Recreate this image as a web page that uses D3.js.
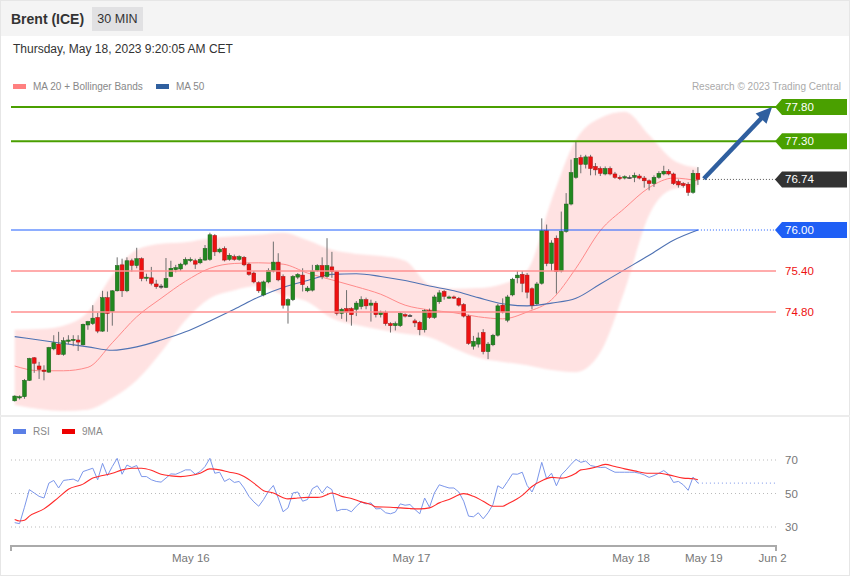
<!DOCTYPE html>
<html><head><meta charset="utf-8">
<script src="https://cdn.jsdelivr.net/npm/d3@7"></script>
<style>body{margin:0;background:#fff;} svg{display:block;font-family:"Liberation Sans",Arial,sans-serif;}</style>
</head><body><svg id="c" width="850" height="576"></svg>
<script>
// ---------- DATA ----------
const candleOpen = [73.50,73.55,73.56,73.80,74.13,74.01,73.95,73.92,74.26,74.33,
74.18,74.37,74.39,74.39,74.32,74.61,74.63,74.72,74.52,75.01,
74.81,75.11,75.49,75.11,75.55,75.48,75.58,75.30,75.30,75.21,
75.18,75.16,75.32,75.42,75.43,75.50,75.56,75.55,75.52,75.56,
75.57,75.92,75.68,75.73,75.57,75.61,75.57,75.60,75.50,75.37,
75.23,75.05,75.24,75.40,75.53,75.32,74.90,74.98,75.31,75.34,
75.11,75.12,75.41,75.48,75.32,75.46,75.39,74.78,74.85,74.85,
74.84,74.88,74.98,74.90,74.93,74.76,74.79,74.63,74.60,74.60,
74.76,74.75,74.67,74.65,74.54,74.82,74.72,74.95,75.10,75.01,
75.02,75.00,74.91,74.74,74.30,74.33,74.50,74.22,74.32,74.46,
74.90,74.68,75.05,75.30,75.35,75.34,75.14,74.92,75.22,75.99,
75.51,75.88,75.40,75.98,76.38,76.77,77.06,76.96,77.07,76.93,
76.90,76.82,76.90,76.82,76.77,76.76,76.77,76.77,76.79,76.76,
76.72,76.68,76.77,76.82,76.86,76.82,76.71,76.68,76.67,76.55,
76.83];
const candleHigh = [73.58,73.58,73.82,74.13,74.14,74.07,74.02,74.29,74.46,74.51,
74.43,74.46,74.46,74.46,74.63,74.67,74.90,74.79,75.11,75.10,
75.12,75.60,75.58,75.60,75.58,75.74,75.60,75.36,75.46,75.27,
75.21,75.59,75.55,75.49,75.52,75.60,75.60,75.58,75.60,75.78,
75.96,75.94,75.74,75.76,75.66,75.64,75.63,75.62,75.52,75.40,
75.25,75.26,75.44,75.83,75.66,75.35,75.00,75.34,75.37,75.44,
75.18,75.49,75.50,75.60,75.88,75.68,75.40,74.86,75.12,74.87,
74.96,75.03,75.01,74.98,74.96,74.82,74.82,74.65,74.66,74.80,
74.78,74.77,74.70,74.67,74.84,74.85,75.05,75.12,75.12,75.04,
75.04,75.02,74.93,74.76,74.45,74.50,74.55,74.36,74.48,74.92,
75.00,75.05,75.30,75.40,75.40,75.37,75.16,75.24,76.17,76.08,
75.85,75.92,76.27,76.54,77.03,77.29,77.10,77.10,77.10,76.98,
76.93,76.93,76.93,76.85,76.80,76.80,76.80,76.84,76.82,76.79,
76.74,76.80,76.86,76.94,76.89,76.84,76.74,76.70,76.70,76.88,
76.92];
const candleLow = [73.49,73.52,73.53,73.79,73.91,73.82,73.80,73.91,74.24,74.17,
74.16,74.33,74.30,74.23,74.31,74.54,74.61,74.49,74.51,74.51,
74.60,75.10,75.02,75.09,75.39,75.44,75.25,75.25,75.19,75.14,
75.14,75.15,75.31,75.38,75.40,75.48,75.53,75.43,75.50,75.55,
75.55,75.62,75.66,75.54,75.55,75.55,75.55,75.47,75.33,75.22,
75.08,75.03,75.22,75.38,75.25,74.85,74.63,74.96,75.28,75.10,
75.09,75.10,75.39,75.28,75.30,75.30,74.75,74.70,74.66,74.60,
74.74,74.84,74.84,74.66,74.72,74.72,74.60,74.50,74.53,74.58,
74.72,74.73,74.58,74.46,74.50,74.70,74.70,74.92,74.98,74.99,
74.99,74.88,74.72,74.32,74.25,74.28,74.18,74.11,74.30,74.44,
74.78,74.65,75.03,75.22,75.09,75.00,74.84,74.90,75.20,75.47,
75.40,75.07,75.38,75.96,76.36,76.75,76.83,76.90,76.80,76.80,
76.79,76.80,76.80,76.75,76.73,76.74,76.75,76.70,76.74,76.62,
76.58,76.63,76.75,76.80,76.80,76.66,76.62,76.62,76.50,76.53,
76.66];
const candleClose = [73.57,73.56,73.80,74.12,74.05,73.96,73.93,74.28,74.35,74.18,
74.38,74.39,74.40,74.36,74.62,74.66,74.71,74.52,75.01,74.78,
75.11,75.48,75.11,75.55,75.48,75.58,75.29,75.31,75.22,75.17,
75.18,75.29,75.44,75.45,75.50,75.57,75.57,75.50,75.57,75.73,
75.93,75.68,75.72,75.56,75.63,75.57,75.61,75.49,75.35,75.24,
75.11,75.24,75.41,75.53,75.27,74.90,74.98,75.32,75.35,75.20,
75.15,75.40,75.48,75.32,75.48,75.39,74.78,74.84,74.80,74.76,
74.93,74.98,74.89,74.93,74.76,74.79,74.63,74.60,74.63,74.78,
74.74,74.75,74.64,74.54,74.82,74.72,75.02,75.08,75.03,75.02,
75.01,74.90,74.74,74.34,74.37,74.42,74.22,74.33,74.46,74.89,
74.80,75.02,75.28,75.34,75.22,75.09,74.90,75.21,75.99,75.51,
75.81,75.39,75.98,76.38,76.84,77.05,76.96,77.07,76.90,76.88,
76.83,76.90,76.82,76.77,76.76,76.78,76.77,76.80,76.76,76.72,
76.68,76.77,76.83,76.86,76.82,76.68,76.66,76.65,76.55,76.83,
76.74];

// indicator readings at sample candle indices
const sampleIdx = [1,6,11,16,21,26,31,36,41,46,51,56,61,66,71,76,81,86,91,96,101,106,111,116,121,126,131,136,141];
const bbUpper = [74.54,74.55,74.60,74.80,75.34,75.71,75.80,75.82,75.88,75.91,75.93,75.96,75.85,75.71,75.65,75.62,75.55,75.20,75.14,75.15,75.21,75.41,76.44,77.32,77.64,77.73,77.39,77.02,76.91];
const bbLower = [73.44,73.38,73.35,73.37,73.54,73.80,74.21,74.68,75.00,75.12,75.18,75.05,74.95,74.71,74.61,74.54,74.48,74.43,74.27,74.13,74.07,74.02,73.95,73.92,74.21,75.12,76.22,76.60,76.64];
const ma20 = [74.01,73.94,73.94,73.99,74.35,74.73,75.00,75.25,75.44,75.51,75.52,75.50,75.37,75.27,75.17,75.06,74.90,74.83,74.79,74.73,74.70,74.80,74.98,75.44,75.99,76.32,76.62,76.76,76.72];
const ma50 = [74.44,74.39,74.34,74.29,74.24,74.29,74.39,74.51,74.67,74.84,75.02,75.16,75.26,75.35,75.36,75.32,75.26,75.18,75.11,75.01,74.92,74.89,74.93,75.00,75.21,75.42,75.63,75.85,76.00];

const rsi = [32.6,32.0,41.8,52.3,50.3,48.3,47.3,56.2,57.8,53.3,
57.8,58.2,58.6,57.2,63.1,64.1,65.1,58.2,68.0,60.7,
66.1,71.0,61.5,67.0,65.5,66.7,60.1,60.1,58.2,57.2,
56.8,59.2,61.7,61.5,62.7,64.1,64.1,61.5,63.1,66.1,
71.0,62.1,62.7,57.2,58.8,56.6,57.2,53.3,48.3,45.0,
42.4,46.4,51.3,54.8,47.3,39.1,41.4,50.3,50.9,45.4,
46.4,52.9,54.6,50.3,54.2,52.3,39.5,40.5,40.5,39.1,
42.4,45.0,43.8,44.4,40.8,41.0,38.5,37.9,38.9,43.8,
43.0,43.4,40.5,37.9,47.3,41.8,50.3,55.2,54.2,53.3,
53.3,50.9,45.4,36.5,36.1,38.5,34.9,38.5,43.4,54.6,
52.9,57.2,61.7,61.5,62.7,54.8,50.9,57.2,68.6,58.8,
62.1,54.6,61.1,64.1,67.4,70.4,68.6,69.4,66.7,66.1,
65.5,65.7,64.1,62.7,62.7,62.7,62.7,62.7,62.1,61.1,
59.6,60.7,62.1,63.7,61.5,56.6,57.2,55.2,51.9,59.8,
56.2];
const ma9Idx = [1,2,3,4,7,10,12,15,17,19,21,23,25,27,29,31,33,35,37,39,41,43,45,47,48,50,52,54,56,57,59,61,63,64,65,66,68,70,72,74,75,78,80,82,84,86,88,90,93,95,97,99,101,102,105,107,109,111,113,114,116,117,118,120,122,124,126,128,131,133,135,138,140,141];
const ma9Val = [34.5,33.6,34.0,36.5,40.8,47.7,52.5,55.6,59.2,60.7,62.1,64.1,65.1,65.1,63.9,61.5,60.5,60.1,60.7,62.1,64.7,64.1,62.7,61.5,60.1,56.2,51.7,50.3,47.5,46.8,47.3,47.7,47.7,48.1,49.3,50.3,48.3,47.0,45.0,43.4,42.0,41.8,41.4,41.0,40.8,41.4,44.4,46.4,49.9,48.3,45.4,42.4,42.4,43.8,48.9,54.2,57.6,59.6,59.2,59.6,62.1,64.1,64.5,65.7,67.4,66.1,64.7,63.5,62.1,62.1,61.1,59.2,58.8,58.2];

const levelValues = [77.80, 77.30, 76.74, 76.00, 75.40, 74.80];
const levelTypes = ["target", "target", "last", "ma50", "support", "support"];
const rsiLevels = [70, 50, 30];
const tickIdx = [37.0, 82.2, 127.2, 142.1, 156.2];
const tickLabels = ["May 16", "May 17", "May 18", "May 19", "Jun 2"];
const arrowFrom = {i: 142.2, v: 76.75};
const arrowTo = {i: 156.2, v: 77.80};

// ---------- DRAW ----------
const svg = d3.select("#c");
const L = 11, R = 776;
svg.append("rect").attr("width", 850).attr("height", 576).attr("fill", "#fff");
svg.append("rect").attr("width", 850).attr("height", 36).attr("fill", "#f4f4f4");
svg.append("rect").attr("x", 0.5).attr("y", 0.5).attr("width", 849).attr("height", 575)
  .attr("fill", "none").attr("stroke", "#e6e6e6");
svg.append("rect").attr("x", 0).attr("y", 415).attr("width", 850).attr("height", 2).attr("fill", "#ececec");

// header
svg.append("text").attr("x", 11).attr("y", 24).attr("font-size", 14).attr("font-weight", "bold")
  .attr("fill", "#333").text("Brent (ICE)");
svg.append("rect").attr("x", 92).attr("y", 7).attr("width", 51).attr("height", 24).attr("fill", "#e1e1e3");
svg.append("text").attr("x", 117.5).attr("y", 23).attr("text-anchor", "middle").attr("font-size", 12.5)
  .attr("fill", "#333").text("30 MIN");
svg.append("text").attr("x", 13).attr("y", 53).attr("font-size", 12).attr("fill", "#333")
  .text("Thursday, May 18, 2023 9:20:05 AM CET");

// legend
function legendItem(xr, yr, color, label) {
  svg.append("rect").attr("x", xr).attr("y", yr).attr("width", 13).attr("height", 5).attr("fill", color);
  svg.append("text").attr("x", xr + 20).attr("y", yr + 5.5).attr("font-size", 10).attr("fill", "#888").text(label);
}
legendItem(13, 84, "#ff8080", "MA 20 + Bollinger Bands");
legendItem(156, 84, "#30609f", "MA 50");
svg.append("text").attr("x", 841).attr("y", 90).attr("text-anchor", "end").attr("font-size", 10)
  .attr("fill", "#aaa").text("Research \u00a9 2023 Trading Central");

// scales
const x = d3.scaleLinear().domain([1, 157]).range([14.7, 776]);
const y = d3.scaleLinear().domain([74.80, 77.80]).range([312, 107]);
const yR = d3.scaleLinear().domain([30, 70]).range([527, 460]);

const defs = svg.append("defs");
defs.append("clipPath").attr("id", "mainClip").append("rect")
  .attr("x", L).attr("y", 94).attr("width", R - L).attr("height", 320);
defs.append("filter").attr("id", "soft").append("feGaussianBlur").attr("stdDeviation", 1.2);

const main = svg.append("g").attr("clip-path", "url(#mainClip)");

// bollinger band
const band = sampleIdx.map((d, k) => ({i: d, u: bbUpper[k], l: bbLower[k], m: ma20[k], s: ma50[k]}));
main.append("path").datum(band)
  .attr("d", d3.area().x(d => x(d.i)).y0(d => y(d.l)).y1(d => y(d.u)).curve(d3.curveMonotoneX))
  .attr("fill", "#ffe2e2").attr("filter", "url(#soft)");
main.append("path").datum(band)
  .attr("d", d3.line().x(d => x(d.i)).y(d => y(d.m)).curve(d3.curveMonotoneX))
  .attr("fill", "none").attr("stroke", "#ff8a8a").attr("stroke-width", 1);

// levels
const lastI = candleClose.length;
levelValues.forEach((v, k) => {
  const t = levelTypes[k];
  const yy = y(v);
  if (t === "target") {
    svg.append("line").attr("x1", L).attr("x2", R).attr("y1", yy).attr("y2", yy)
      .attr("stroke", "#4a9f00").attr("stroke-width", 2);
  } else if (t === "support") {
    svg.append("line").attr("x1", L).attr("x2", R).attr("y1", yy).attr("y2", yy)
      .attr("stroke", "#ff9090").attr("stroke-width", 1.3);
  } else if (t === "ma50") {
    svg.append("line").attr("x1", L).attr("x2", x(lastI)).attr("y1", yy).attr("y2", yy)
      .attr("stroke", "#1f5fff").attr("stroke-width", 1.2);
    svg.append("line").attr("x1", x(lastI)).attr("x2", R).attr("y1", yy).attr("y2", yy)
      .attr("stroke", "#1f5fff").attr("stroke-width", 1).attr("stroke-dasharray", "1,2");
  } else if (t === "last") {
    svg.append("line").attr("x1", x(lastI) + 5).attr("x2", R).attr("y1", yy).attr("y2", yy)
      .attr("stroke", "#555").attr("stroke-width", 1).attr("stroke-dasharray", "1,2");
  }
});

// MA50
main.append("path").datum(band)
  .attr("d", d3.line().x(d => x(d.i)).y(d => y(d.s)).curve(d3.curveMonotoneX))
  .attr("fill", "none").attr("stroke", "#4f72b3").attr("stroke-width", 1.1);

// candles
const candles = candleClose.map((c, k) => ({i: k + 1, o: candleOpen[k], h: candleHigh[k], l: candleLow[k], c: c}));
const cg = main.append("g");
cg.selectAll("line.w").data(candles).join("line").attr("class", "w")
  .attr("x1", d => x(d.i)).attr("x2", d => x(d.i))
  .attr("y1", d => y(d.h)).attr("y2", d => y(d.l))
  .attr("stroke", "#6e6e6e").attr("stroke-width", 1);
const bw = 3.8;
cg.selectAll("rect.b").data(candles).join("rect").attr("class", "b")
  .attr("x", d => x(d.i) - bw / 2).attr("width", bw)
  .attr("y", d => y(Math.max(d.o, d.c)))
  .attr("height", d => Math.max(1.2, Math.abs(y(d.o) - y(d.c))))
  .attr("fill", d => d.c > d.o ? "#22881f" : (d.c < d.o ? "#ee1111" : "#444"))
  .attr("stroke", d => d.c > d.o ? "#1b5e1a" : (d.c < d.o ? "#a41010" : "#444"))
  .attr("stroke-width", 0.5);

// arrow
{
  const x1 = x(arrowFrom.i), y1 = y(arrowFrom.v), x2 = x(arrowTo.i), y2 = y(arrowTo.v);
  const ang = Math.atan2(y2 - y1, x2 - x1);
  const hl = 16, hw = 7.5;
  const bx = x2 - hl * Math.cos(ang), by = y2 - hl * Math.sin(ang);
  svg.append("line").attr("x1", x1).attr("y1", y1).attr("x2", bx + 2 * Math.cos(ang)).attr("y2", by + 2 * Math.sin(ang))
    .attr("stroke", "#2f5f9f").attr("stroke-width", 4.4);
  const px = -Math.sin(ang), py = Math.cos(ang);
  svg.append("path").attr("d", `M${x2},${y2}L${bx + hw * px},${by + hw * py}L${bx - hw * px},${by - hw * py}Z`)
    .attr("fill", "#2f5f9f");
}

// tags
const tagColor = {target: "#4aa000", last: "#333333", ma50: "#1f5ff5"};
levelValues.forEach((v, k) => {
  const t = levelTypes[k];
  const yy = y(v);
  if (tagColor[t]) {
    const x0 = 775, x1 = 847, hh = 8;
    svg.append("path").attr("d", `M${x0},${yy}L${x0 + 7},${yy - hh}L${x1},${yy - hh}L${x1},${yy + hh}L${x0 + 7},${yy + hh}Z`)
      .attr("fill", tagColor[t]);
    svg.append("text").attr("x", 785).attr("y", yy + 4).attr("font-size", 11.5).attr("fill", "#fff").text(v.toFixed(2));
  } else {
    svg.append("text").attr("x", 785).attr("y", yy + 4).attr("font-size", 11.5).attr("fill", "#ee1111").text(v.toFixed(2));
  }
});

// ---------- RSI panel ----------
svg.append("rect").attr("x", 13).attr("y", 429).attr("width", 13).attr("height", 5).attr("fill", "#5b7fe6");
svg.append("text").attr("x", 33).attr("y", 435).attr("font-size", 10).attr("fill", "#888").text("RSI");
svg.append("rect").attr("x", 62).attr("y", 429).attr("width", 13).attr("height", 5).attr("fill", "#ee0000");
svg.append("text").attr("x", 82).attr("y", 435).attr("font-size", 10).attr("fill", "#888").text("9MA");

rsiLevels.forEach(v => {
  svg.append("line").attr("x1", L).attr("x2", R).attr("y1", yR(v)).attr("y2", yR(v))
    .attr("stroke", "#bbb").attr("stroke-width", 1).attr("stroke-dasharray", "1,3");
  svg.append("text").attr("x", 785).attr("y", yR(v) + 4).attr("font-size", 11.5).attr("fill", "#777").text(v);
});

const rsiPts = rsi.map((v, k) => ({i: k + 1, v}));
svg.append("line").attr("x1", x(lastI)).attr("x2", R).attr("y1", yR(rsi[rsi.length - 1])).attr("y2", yR(rsi[rsi.length - 1]))
  .attr("stroke", "#7b96ea").attr("stroke-width", 1).attr("stroke-dasharray", "1,3");
svg.append("path").datum(rsiPts)
  .attr("d", d3.line().x(d => x(d.i)).y(d => yR(d.v)))
  .attr("fill", "none").attr("stroke", "#7b96ea").attr("stroke-width", 1);
const ma9Pts = ma9Idx.map((d, k) => ({i: d, v: ma9Val[k]}));
svg.append("path").datum(ma9Pts)
  .attr("d", d3.line().x(d => x(d.i)).y(d => yR(d.v)).curve(d3.curveMonotoneX))
  .attr("fill", "none").attr("stroke", "#ff2a2a").attr("stroke-width", 1.1);

// x axis
const ax = svg.append("g").attr("transform", "translate(0,546)")
  .call(d3.axisBottom(x).tickValues(tickIdx).tickFormat((d, k) => tickLabels[k]).tickSize(0).tickPadding(8));
ax.select(".domain").remove();
ax.selectAll("text").attr("font-size", 11.5).attr("fill", "#777").attr("font-family", "Liberation Sans, Arial, sans-serif");
svg.append("path").attr("d", `M${L},551V546H${R}V551`).attr("fill", "none").attr("stroke", "#aaa").attr("stroke-width", 2);
</script></body></html>
